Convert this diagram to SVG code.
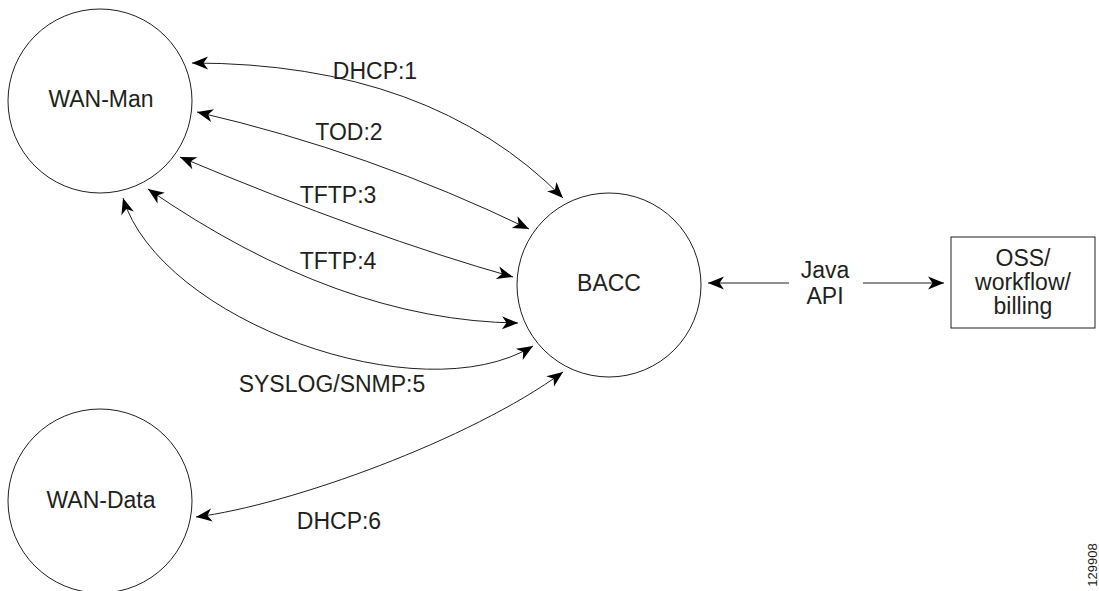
<svg xmlns="http://www.w3.org/2000/svg" width="1099" height="591" viewBox="0 0 1099 591">
<style>
.node{fill:#fff;stroke:#231f20;stroke-width:1}
.lbl{font-family:"Liberation Sans",Arial,sans-serif;font-size:23px;fill:#231f20;text-anchor:middle}
.conn{fill:none;stroke:#231f20;stroke-width:1;marker-start:url(#ah);marker-end:url(#ah)}
.one{fill:none;stroke:#231f20;stroke-width:1;marker-end:url(#ah)}
</style>
<defs>
<marker id="ah" markerUnits="userSpaceOnUse" viewBox="-17 -8 18 16" refX="0" refY="0" markerWidth="18" markerHeight="16" orient="auto-start-reverse">
<path d="M0,0 L-16,-6.5 L-11.5,0 L-16,6.5 Z" fill="#000"/>
</marker>
</defs>
<rect width="1099" height="591" fill="#fff"/>
<g id="wan-man">
<circle class="node" cx="100" cy="101" r="92"/>
<text class="lbl" x="101" y="107">WAN-Man</text>
</g>
<g id="wan-data">
<circle class="node" cx="100" cy="501" r="92"/>
<text class="lbl" x="101" y="508">WAN-Data</text>
</g>
<g id="bacc">
<circle class="node" cx="609" cy="285" r="92"/>
<text class="lbl" x="609" y="291">BACC</text>
</g>
<g id="oss">
<rect class="node" x="951" y="237" width="144" height="91"/>
<text class="lbl" x="1023" y="266">OSS/</text>
<text class="lbl" x="1023" y="290">workflow/</text>
<text class="lbl" x="1023" y="314">billing</text>
</g>
<g id="connectors">
<path class="conn" d="M192,63 Q430,63 563,198"/>
<path class="conn" d="M197,112 Q370,152 529,229"/>
<path class="conn" d="M180,157 Q371,237 513,277"/>
<path class="conn" d="M148,189 Q339,321 518,323"/>
<path class="conn" d="M123,198 C160,320 420,415 533,346"/>
<path class="conn" d="M196,517 C290,505 470,440 563,372"/>
<path class="one" d="M789,283 L708,283"/>
<path class="one" d="M863,283 L944,283"/>
</g>
<g id="labels">
<text class="lbl" x="375" y="79">DHCP:1</text>
<text class="lbl" x="349" y="140">TOD:2</text>
<text class="lbl" x="338" y="203">TFTP:3</text>
<text class="lbl" x="338" y="269">TFTP:4</text>
<text class="lbl" x="332" y="392">SYSLOG/SNMP:5</text>
<text class="lbl" x="339" y="529">DHCP:6</text>
<text class="lbl" x="825" y="278">Java</text>
<text class="lbl" x="825" y="304">API</text>
<text font-family="'Liberation Sans',Arial,sans-serif" font-size="13" fill="#231f20" text-anchor="middle" transform="translate(1097,565) rotate(-90)">129908</text>
</g>
</svg>
